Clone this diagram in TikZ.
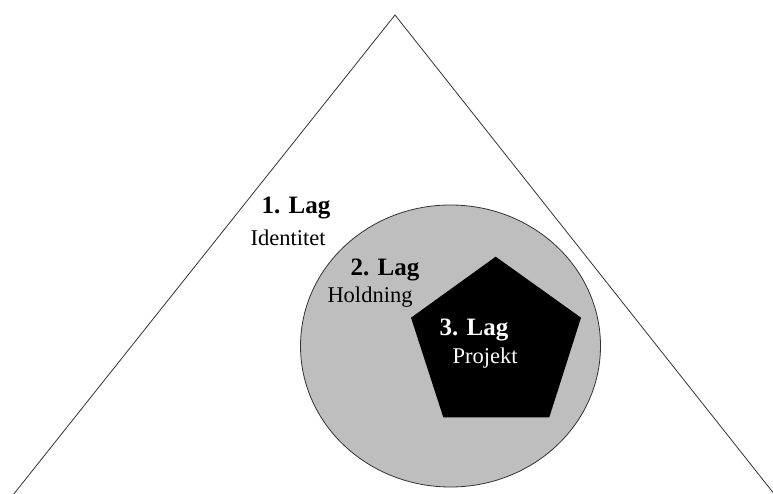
\documentclass[tikz,border=0pt]{standalone}
\usepackage{fontspec}
\setmainfont{Liberation Serif}
\definecolor{layergray}{RGB}{190,190,190}
\begin{document}
\begin{tikzpicture}[x=1pt,y=1pt,
  lagtitle/.style={font=\fontsize{25}{28}\selectfont\bfseries, inner sep=0pt},
  lagsub/.style={font=\fontsize{22.5}{26}\selectfont, inner sep=0pt},
  outline/.style={draw=black!80, line width=0.8pt}]
  \useasboundingbox (0,0) rectangle (773,493);
  \fill[white] (0,0) rectangle (773,493);
  % triangle (layer 1), open at the bottom
  \begin{scope}
    \clip (0,0) rectangle (773,493);
    \draw[outline] (13,-2) -- (395,478) -- (775,-2);
  \end{scope}
  % circle (layer 2)
  \draw[outline, fill=layergray] (450.5,147) ellipse [x radius=150, y radius=141];
  % pentagon (layer 3)
  \fill[black] (495.7,236.3) -- (581,175.3) -- (549.3,75.7) -- (443.3,75.7) -- (411,175.3) -- cycle;
  % labels
  \node[lagtitle] (t1) at (296,285) {1. Lag};
  \node[lagsub] (s1) at (288,255) {Identitet};
  \node[lagtitle] (t2) at (385,223) {2. Lag};
  \node[lagsub] (s2) at (370,196) {Holdning};
  \node[lagtitle, text=white] (t3) at (474,163) {3. Lag};
  \node[lagsub, text=white] (s3) at (485,135) {Projekt};
\end{tikzpicture}
\end{document}
